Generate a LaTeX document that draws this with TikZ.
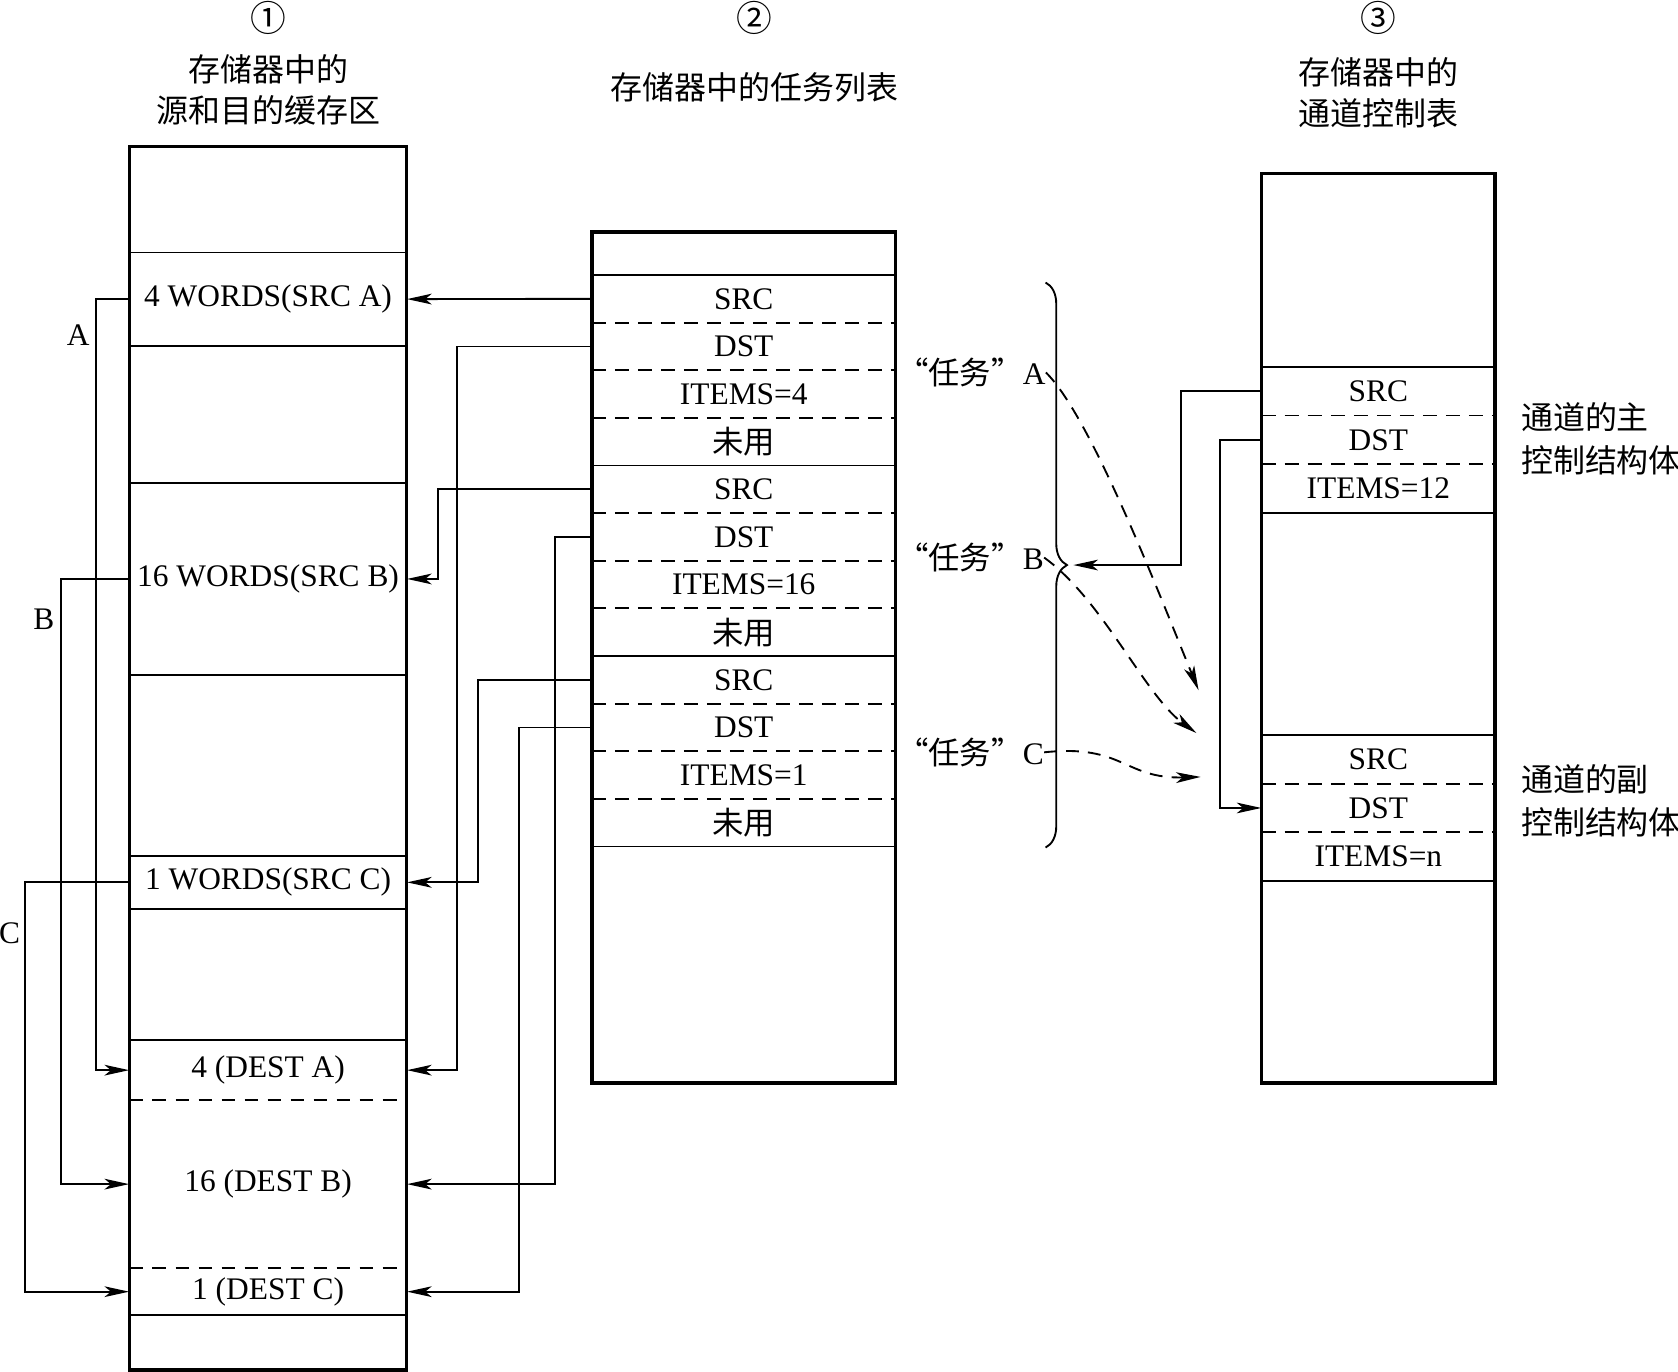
\documentclass[tikz,border=0pt]{standalone}
\usepackage{fontspec}
\setmainfont{Liberation Serif}
\newfontfamily\cjk{Noto Sans CJK SC}
\usetikzlibrary{arrows.meta,decorations.pathreplacing}

\begin{document}
\begin{tikzpicture}[x=0.2mm,y=-0.2mm]
% Configuración de estilos
\tikzstyle{colbox} = [draw, line width=0.65mm, inner sep=0pt]
\tikzstyle{cell} = [inner sep=0pt, font=\fontsize{16.7}{20}\selectfont]
\tikzstyle{solidsep} = [line width=0.35mm]
\tikzstyle{dashsep} = [line width=0.35mm, dash pattern=on 2.6mm off 1.7mm]
\tikzstyle{wire} = [line width=0.35mm, -{Stealth[length=4.6mm,width=2mm,inset=1.2mm]}]
\tikzstyle{taskline} = [wire, dash pattern=on 2.4mm off 1.7mm]
\tikzstyle{heading} = [font=\fontsize{17}{21.5}\selectfont\cjk, align=center]
\tikzstyle{number} = [inner sep=0pt, font=\fontsize{19}{20}\selectfont\cjk]

\useasboundingbox (0,0) rectangle (1568,1282);

% Títulos
\node[number] (num1) at (251,17) {①};
\node[number] (num2) at (705,17) {②};
\node[number] (num3) at (1288,17) {③};
\node[heading] (head1) at (251,84) {存储器中的\\源和目的缓存区};
\node[heading] (head2) at (705,82) {存储器中的任务列表};
\node[heading] (head3) at (1288,86.5) {存储器中的\\通道控制表};

% Columna 1: búferes en memoria
\node[colbox, minimum width=51.8mm, minimum height=228.6mm] (col1) at (250.5,708.5) {};
\foreach \y in {236,323,451,631,800,849,972,1229}
  \draw[solidsep] (121,\y) -- (380,\y);
\foreach \y in {1028,1185}
  \draw[dashsep] (121,\y) -- (380,\y);
\node[cell, minimum width=51.8mm, minimum height=17.4mm] (c1a) at (250.5,279.5) {4 WORDS(SRC A)};
\node[cell, minimum width=51.8mm, minimum height=36mm] (c1b) at (250.5,541) {16 WORDS(SRC B)};
\node[cell, minimum width=51.8mm, minimum height=9.8mm] (c1c) at (250.5,824.5) {1 WORDS(SRC C)};
\node[cell, minimum width=51.8mm, minimum height=11.2mm] (c1d) at (250.5,1000) {4 (DEST A)};
\node[cell, minimum width=51.8mm, minimum height=31.4mm] (c1e) at (250.5,1106.5) {16 (DEST B)};
\node[cell, minimum width=51.8mm, minimum height=8.8mm] (c1f) at (250.5,1207) {1 (DEST C)};

% Columna 2: lista de tareas
\node[colbox, minimum width=56.8mm, minimum height=159mm] (col2) at (695,614.5) {};
\foreach \y in {257,435,613,791}
  \draw[solidsep] (553,\y) -- (837,\y);
\foreach \y in {301.5,346,390.5,479.5,524,568.5,657.5,702,746.5}
  \draw[dashsep] (553,\y) -- (837,\y);
\node[cell, minimum width=56.8mm, minimum height=8.9mm] (s1) at (695,279.25) {SRC};
\node[cell, minimum width=56.8mm, minimum height=8.9mm] (d1) at (695,323.75) {DST};
\node[cell, minimum width=56.8mm, minimum height=8.9mm] (i1) at (695,368.25) {ITEMS=4};
\node[cell, minimum width=56.8mm, minimum height=8.9mm] (u1) at (695,412.75) {\cjk 未用};
\node[cell, minimum width=56.8mm, minimum height=8.9mm] (s2) at (695,457.25) {SRC};
\node[cell, minimum width=56.8mm, minimum height=8.9mm] (d2) at (695,501.75) {DST};
\node[cell, minimum width=56.8mm, minimum height=8.9mm] (i2) at (695,546.25) {ITEMS=16};
\node[cell, minimum width=56.8mm, minimum height=8.9mm] (u2) at (695,590.75) {\cjk 未用};
\node[cell, minimum width=56.8mm, minimum height=8.9mm] (s3) at (695,635.25) {SRC};
\node[cell, minimum width=56.8mm, minimum height=8.9mm] (d3) at (695,679.75) {DST};
\node[cell, minimum width=56.8mm, minimum height=8.9mm] (i3) at (695,724.25) {ITEMS=1};
\node[cell, minimum width=56.8mm, minimum height=8.9mm] (u3) at (695,768.75) {\cjk 未用};

% Columna 3: tabla de control del canal
\node[colbox, minimum width=43.6mm, minimum height=170mm] (col3) at (1288,587) {};
\foreach \y in {343,479,687,823}
  \draw[solidsep] (1179,\y) -- (1397,\y);
\foreach \y in {388.3,433.7,732.3,777.7}
  \draw[dashsep] (1179,\y) -- (1397,\y);
\node[cell, minimum width=43.6mm, minimum height=9.07mm] (m1) at (1288,365.7) {SRC};
\node[cell, minimum width=43.6mm, minimum height=9.07mm] (m2) at (1288,411) {DST};
\node[cell, minimum width=43.6mm, minimum height=9.07mm] (m3) at (1288,456.3) {ITEMS=12};
\node[cell, minimum width=43.6mm, minimum height=9.07mm] (n1) at (1288,709.7) {SRC};
\node[cell, minimum width=43.6mm, minimum height=9.07mm] (n2) at (1288,755) {DST};
\node[cell, minimum width=43.6mm, minimum height=9.07mm] (n3) at (1288,800.3) {ITEMS=n};
\node[cell, anchor=west, align=left, font=\fontsize{17}{22.7}\selectfont\cjk] (mainlbl) at (1421,410) {通道的主\\控制结构体};
\node[cell, anchor=west, align=left, font=\fontsize{17}{22.7}\selectfont\cjk] (sublbl) at (1421,748) {通道的副\\控制结构体};

% Etiquetas A, B, C
\node[cell] (lblA) at (73,313) {A};
\node[cell] (lblB) at (41,579) {B};
\node[cell] (lblC) at (9,872) {C};

% Copia origen -> destino
\draw[wire] (c1a.west) -- ++(-31,0) |- (c1d.west);
\draw[wire] (c1b.west) -- ++(-64,0) |- (c1e.west);
\draw[wire] (c1c.west) -- ++(-97,0) |- (c1f.west);

% Punteros de la lista de tareas
\draw[wire] (s1.west) -- (c1a.east);
\draw[wire] (d1.west) -- ++(-126,0) |- (c1d.east);
\draw[wire] (s2.west) -- ++(-143,0) |- (c1b.east);
\draw[wire] (d2.west) -- ++(-34,0) |- (c1e.east);
\draw[wire] (s3.west) -- ++(-106,0) |- (c1c.east);
\draw[wire] (d3.west) -- ++(-68,0) |- (c1f.east);

% Llave de tareas
\draw[line width=0.35mm, decorate, decoration={brace, amplitude=4mm}] (977,264) -- (977,792);
\coordinate (brtip) at (1003,528);
\node[cell, anchor=west] (tA) at (838,348) {{\cjk “任务”}A};
\node[cell, anchor=west] (tB) at (838,521) {{\cjk “任务”}B};
\node[cell, anchor=west] (tC) at (838,703) {{\cjk “任务”}C};

% Punteros del canal
\draw[wire] (m1.west) -- ++(-75,0) |- (brtip);
\draw[wire] (m2.west) -- ++(-39,0) |- (n2.west);

% Tareas encadenadas
\coordinate (eA) at (1120,645);
\coordinate (eB) at (1118,685);
\coordinate (eC) at (1122,726);
\draw[taskline] (tA.east) .. controls (1020,390) and (1085,560) .. (eA);
\draw[taskline] (tB.east) .. controls (1030,560) and (1070,650) .. (eB);
\draw[taskline] (tC.east) .. controls (1050,695) and (1050,728) .. (eC);
\end{tikzpicture}
\end{document}
